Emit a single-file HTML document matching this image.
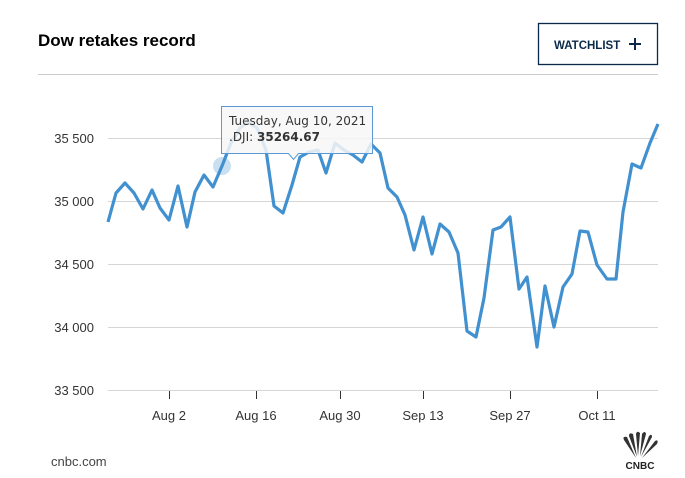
<!DOCTYPE html>
<html><head><meta charset="utf-8"><style>
body{margin:0;background:#fff;width:685px;height:478px;overflow:hidden;font-family:"Liberation Sans",sans-serif}
</style></head><body>
<svg width="685" height="478" xmlns="http://www.w3.org/2000/svg" style="position:absolute;left:0;top:0">
<text x="38" y="46" font-size="17" font-weight="bold" fill="#000">Dow retakes record</text>
<rect x="538.5" y="23.5" width="119" height="41" fill="#fff" stroke="#0b2a4a" stroke-width="1.3"/>
<text x="554" y="49" font-size="11.5" font-weight="bold" fill="#0b2a4a">WATCHLIST</text>
<path d="M629 44h12M635 38v12" stroke="#0b2a4a" stroke-width="2"/>
<line x1="38" y1="74.5" x2="658" y2="74.5" stroke="#ccc"/>
<g stroke="#d6d6d6" stroke-width="1">
<line x1="108" y1="138.5" x2="658" y2="138.5"/>
<line x1="108" y1="201.5" x2="658" y2="201.5"/>
<line x1="108" y1="264.5" x2="658" y2="264.5"/>
<line x1="108" y1="327.5" x2="658" y2="327.5"/>
<line x1="108" y1="390.5" x2="658" y2="390.5"/>
</g>
<g font-size="13" fill="#333" text-anchor="end">
<text x="94" y="143">35 500</text>
<text x="94" y="206">35 000</text>
<text x="94" y="269">34 500</text>
<text x="94" y="332">34 000</text>
<text x="94" y="395">33 500</text>
</g>
<g stroke="#333" stroke-width="1">
<line x1="169.5" y1="391" x2="169.5" y2="399"/><line x1="256.5" y1="391" x2="256.5" y2="399"/>
<line x1="340.5" y1="391" x2="340.5" y2="399"/><line x1="423.5" y1="391" x2="423.5" y2="399"/>
<line x1="510.5" y1="391" x2="510.5" y2="399"/><line x1="597.5" y1="391" x2="597.5" y2="399"/>
</g>
<g font-size="13" fill="#333" text-anchor="middle">
<text x="169" y="420">Aug 2</text><text x="256" y="420">Aug 16</text><text x="340" y="420">Aug 30</text>
<text x="423" y="420">Sep 13</text><text x="510" y="420">Sep 27</text><text x="597" y="420">Oct 11</text>
</g>
<circle cx="222" cy="166" r="9" fill="#4a97d3" opacity="0.3"/>
<polyline fill="none" stroke="#4190d0" stroke-width="3.2" stroke-linejoin="round" points="108,222 116,193 125,183 134,193 143,209 152,190 160,208 169,220 178,186 187,227 195,192 204,175 213,187 222,166 231,143 240,128 248,122 257,128 266,150 274,206 283,213 292,185 300,157 309,152 318,150 326,173 335,143 344,150 353,155 362,162 371,144 380,153 388,188 397,197 405,215 414,250 423,217 432,254 440,224 449,232 458,253 467,331 476,337 484,298 493,230 501,227 510,217 519,289 527,277 537,347 545,286 554,327 563,287 572,274 580,231 588,232 597,265 607,279 616,279 623,212 632,164 641,168 650,143 658,124"/>
<path d="M221.5 106.5h151v47h-74l-5 6-5-6h-67z" fill="#f7f7f7" fill-opacity="0.85" stroke="#5a9ad4" stroke-width="1"/>
<text x="229" y="125" font-size="12" fill="#333" font-family="DejaVu Sans,sans-serif">Tuesday, Aug 10, 2021</text>
<text x="229" y="141" font-size="12" fill="#333" font-family="DejaVu Sans,sans-serif">.DJI: <tspan font-weight="bold">35264.67</tspan></text>
<text x="51" y="466" font-size="13" fill="#444">cnbc.com</text>
<g fill="#333">
<path d="M636 458 L624 440 Q622 436 627 437 Z"/>
<path d="M637 457 L629 436 Q629 432 633 434 Z"/>
<path d="M638 456 L636 434 Q637 430 640 433 Z"/>
<path d="M640 456 L642 434 Q645 430 646 434 Z"/>
<path d="M641 457 L649 436 Q652 433 652 437 Z"/>
<path d="M642 458 L655 441 Q659 439 657 444 Z"/>
</g>
<text x="640" y="469" font-size="10" font-weight="bold" fill="#222" text-anchor="middle">CNBC</text>
</svg>
</body></html>
